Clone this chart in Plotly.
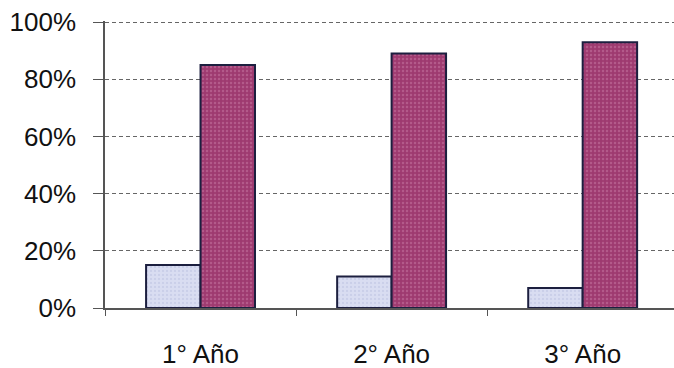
import plotly.graph_objects as go

# Share of students per school year (two complementary groups)
years = ["1° Año", "2° Año", "3° Año"]
group_a = [0.15, 0.11, 0.07]
group_b = [0.85, 0.89, 0.93]

light_fill = "#d9ddf1"
dark_fill = "#9e3a70"
edge = "#1c1f3f"

fig = go.Figure()
fig.add_trace(go.Bar(
    x=years, y=group_a,
    marker=dict(color=light_fill, line=dict(color=edge, width=2),
                pattern=dict(shape=".", fgcolor="#b9bfe0", size=4, solidity=0.25)),
    showlegend=False,
))
fig.add_trace(go.Bar(
    x=years, y=group_b,
    marker=dict(color=dark_fill, line=dict(color=edge, width=2),
                pattern=dict(shape=".", fgcolor="#c77aa4", size=4, solidity=0.3)),
    showlegend=False,
))

font_family = "Liberation Sans, Arial, sans-serif"

fig.update_layout(
    width=674, height=368,
    margin=dict(l=105, r=0, t=21, b=60),
    paper_bgcolor="white", plot_bgcolor="white",
    barmode="group", bargap=0.43, bargroupgap=0,
    font=dict(family=font_family, size=26, color="#111111"),
    xaxis=dict(
        range=[-0.5, 2.478],
        showline=True, linecolor="#555555", linewidth=1.5,
        ticks="outside", tickson="boundaries", ticklen=6, tickcolor="#555555",
        showgrid=False, tickfont=dict(size=26), ticklabelstandoff=22,
    ),
    yaxis=dict(
        range=[0, 1.004], tickvals=[0, 0.2, 0.4, 0.6, 0.8, 1.0], tickformat=".0%",
        showline=True, linecolor="#555555", linewidth=1.5,
        ticks="outside", ticklen=10, tickcolor="#555555",
        showgrid=True, gridcolor="#666666", griddash="4px,3px", gridwidth=1,
        zeroline=False, tickfont=dict(size=26), ticklabelstandoff=12,
    ),
)

fig.write_html("out.html")
